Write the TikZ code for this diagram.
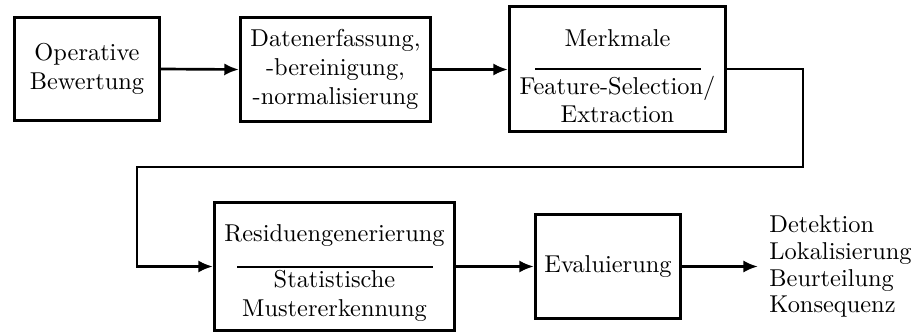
\documentclass[tikz,border=0pt]{standalone}
\usetikzlibrary{arrows.meta}
\begin{document}
\def\px{0.41pt}
\begin{tikzpicture}[x=0.41pt,y=-0.41pt,
  box/.style={draw,line width=1.3pt,inner sep=0pt,align=center},
  arr/.style={line width=1.1pt,-{Latex[length=6pt,width=5pt]}},
  sep/.style={line width=0.9pt},
  txt/.style={inner sep=0pt,anchor=base}]
\useasboundingbox (0,0) rectangle (912,333);
% boxes
\node[box,minimum width=145*\px,minimum height=103*\px] (op) at (87,69) {Operative\\Bewertung};
\node[box,minimum width=190*\px,minimum height=104*\px] (da) at (335.5,69.5) {Datenerfassung,\\-bereinigung,\\-normalisierung};
\node[box,minimum width=216*\px,minimum height=125*\px] (me) at (617.5,69) {};
\node[box,minimum width=240*\px,minimum height=128*\px] (re) at (334.5,266.5) {};
\node[box,minimum width=145*\px,minimum height=104*\px] (ev) at (608,266.5) {Evaluierung};
% texts inside split boxes
\node[txt] (me1) at (617.5,47) {Merkmale};
\node[txt] (me2) at (617.5,95) {Feature-Selection/};
\node[txt] (me3) at (617.5,123) {Extraction};
\node[txt] (re1) at (334.5,242) {Residuengenerierung};
\node[txt] (re2) at (334.5,288) {Statistische};
\node[txt] (re3) at (334.5,316.5) {Mustererkennung};
\coordinate (mL) at (535,69); \coordinate (mR) at (701,69);
\coordinate (rL) at (237,267); \coordinate (rR) at (433,267);
\draw[sep] (mL) -- (mR);
\draw[sep] (rL) -- (rR);
% output
\node[anchor=west,inner xsep=4.5pt,inner ysep=0pt,align=left] (out) at (758,266.5)
  {Detektion\\[-1pt]Lokalisierung\\[-1pt]Beurteilung\\[-1pt]Konsequenz};
% connectors
\coordinate (t1) at (803,167);
\coordinate (t2) at (137,167);
\draw[arr] (op.east) -- (da.west);
\draw[arr] (da.east) -- (da.east -| me.west);
\draw[arr,rounded corners=0pt] (me.east) -| (t1) -- (t2) |- (re.west);
\draw[arr] (re.east) -- (ev.west);
\draw[arr] (ev.east) -- (out.west);
\end{tikzpicture}
\end{document}
